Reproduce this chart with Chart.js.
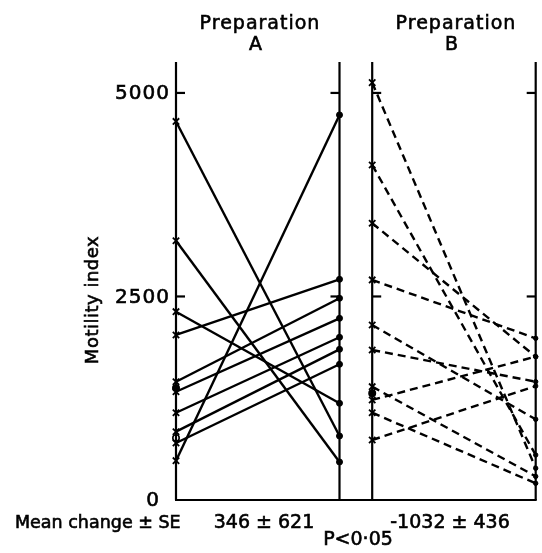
<!DOCTYPE html>
<html>
<head>
<meta charset="utf-8">
<script src="https://cdn.jsdelivr.net/npm/chart.js@4.4.1/dist/chart.umd.min.js"></script>
<style>
  html, body { margin: 0; padding: 0; background: #fff; }
  #wrap { width: 542px; height: 553px; }
</style>
</head>
<body>
<div id="wrap"><canvas id="motility" width="542" height="553"></canvas></div>
<script>
// values (motility index)
const prepA_before = [4650, 3185, 483, 2313, 2027, 1453, 1330, 1072, 839, 700];
const prepA_after = [786, 467, 4730, 1188, 2711, 2478, 2232, 1999, 1851, 1667];
const prepB_before = [5127, 4115, 3400, 2703, 2150, 1843, 1392, 1229, 1072, 737];
const prepB_after = [390, 553, 1761, 1986, 991, 1453, 290, 1761, 205, 1400];
// odd markers on the axes that carry no line
const extraA_dot = [1376];
const extraA_ring = [762];
const extraB_dot = [1310];

// x positions of the four vertical axes
const axisX = [0, 1, 1.2, 2.2];
const yTicks = [2500, 5000];
const yTickLabels = ["2500", "5000"];
const panelTitles = [["Preparation", "A"], ["Preparation", "B"]];
const meanChange = ["346 ± 621", "-1032 ± 436"];

function pairs(before, after, x0, x1, dashed) {
  return before.map((v, i) => ({
    data: [{ x: x0, y: v }, { x: x1, y: after[i] }],
    borderColor: "#000",
    borderWidth: 2.4,
    borderDash: dashed ? [8, 5] : [],
    pointStyle: ["crossRot", "circle"],
    pointRadius: [4.5, dashed ? 2.2 : 3],
    pointBorderWidth: [1.8, 1],
    pointBackgroundColor: "#000",
    pointBorderColor: "#000",
    showLine: true,
    clip: false,
  }));
}

function markers(values, x, style, radius, fill) {
  return {
    data: values.map((v) => ({ x: x, y: v })),
    pointStyle: style,
    pointRadius: radius,
    pointBorderWidth: 1.6,
    pointBackgroundColor: fill,
    pointBorderColor: "#000",
    showLine: false,
    clip: false,
  };
}

const datasets = [
  ...pairs(prepA_before, prepA_after, axisX[0], axisX[1], false),
  ...pairs(prepB_before, prepB_after, axisX[2], axisX[3], true),
  markers(extraA_dot, axisX[0], "circle", 3.2, "#000"),
  markers(extraA_ring, axisX[0], "circle", 3.2, "#fff"),
  markers(extraB_dot, axisX[2], "circle", 3.2, "#000"),
];

const FONT = '"DejaVu Sans", sans-serif';

function heavyText(ctx, s, px, py) {
  ctx.fillText(s, px, py);
  ctx.strokeText(s, px, py);
}

const frame = {
  id: "frame",
  afterDatasetsDraw(chart) {
    const { ctx, chartArea: { top, bottom }, scales: { x, y } } = chart;
    ctx.save();
    ctx.strokeStyle = "#000";
    ctx.lineWidth = 2.2;
    ctx.lineCap = "butt";
    // vertical axes
    axisX.forEach((v) => {
      const px = x.getPixelForValue(v);
      ctx.beginPath();
      ctx.moveTo(px, top);
      ctx.lineTo(px, bottom);
      ctx.stroke();
    });
    // baseline
    ctx.beginPath();
    ctx.moveTo(x.getPixelForValue(axisX[0]) - 1, y.getPixelForValue(0));
    ctx.lineTo(x.getPixelForValue(axisX[3]) + 1, y.getPixelForValue(0));
    ctx.stroke();
    // ticks, pointing into each panel
    const dirs = [1, -1, 1, -1];
    yTicks.forEach((t) => {
      const py = y.getPixelForValue(t);
      axisX.forEach((v, i) => {
        const px = x.getPixelForValue(v);
        ctx.beginPath();
        ctx.moveTo(px, py);
        ctx.lineTo(px + dirs[i] * 9, py);
        ctx.stroke();
      });
    });
    ctx.fillStyle = "#000";
    ctx.lineWidth = 0.6;
    // tick labels
    ctx.font = "20px " + FONT;
    ctx.letterSpacing = "1px";
    ctx.textAlign = "right";
    ctx.textBaseline = "middle";
    yTicks.forEach((t, i) => {
      heavyText(ctx, yTickLabels[i], x.getPixelForValue(axisX[0]) - 6, y.getPixelForValue(t) + 1);
    });
    ctx.textAlign = "center";
    heavyText(ctx, "0", 153, y.getPixelForValue(0) + 1);
    // y title
    ctx.save();
    ctx.translate(93, 300);
    ctx.rotate(-Math.PI / 2);
    ctx.font = "18px " + FONT;
    ctx.letterSpacing = "0.5px";
    heavyText(ctx, "Motility index", 0, 0);
    ctx.restore();
    // panel titles
    ctx.font = "19px " + FONT;
    ctx.letterSpacing = "1px";
    ctx.textBaseline = "alphabetic";
    const centers = [260, 456];
    panelTitles.forEach((lines, i) => {
      heavyText(ctx, lines[0], centers[i], 29);
      heavyText(ctx, lines[1], centers[i] - 4, 50);
    });
    // bottom texts
    ctx.font = "17.5px " + FONT;
    ctx.letterSpacing = "0px";
    ctx.textAlign = "left";
    heavyText(ctx, "Mean change ± SE", 15, 528);
    ctx.font = "19px " + FONT;
    ctx.textAlign = "center";
    heavyText(ctx, meanChange[0], 264, 528);
    heavyText(ctx, meanChange[1], 450, 528);
    heavyText(ctx, "P<0·05", 358, 545);
    ctx.restore();
  },
};

new Chart(document.getElementById("motility"), {
  type: "scatter",
  data: { datasets },
  options: {
    responsive: false,
    animation: false,
    layout: { padding: { left: 176, right: 1, top: 62, bottom: 53 } },
    scales: {
      x: { type: "linear", min: 0, max: 2.2, display: false },
      y: { type: "linear", min: 0, max: 5380, display: false },
    },
    plugins: {
      legend: { display: false },
      tooltip: { enabled: false },
    },
  },
  plugins: [frame],
});
</script>
</body>
</html>
